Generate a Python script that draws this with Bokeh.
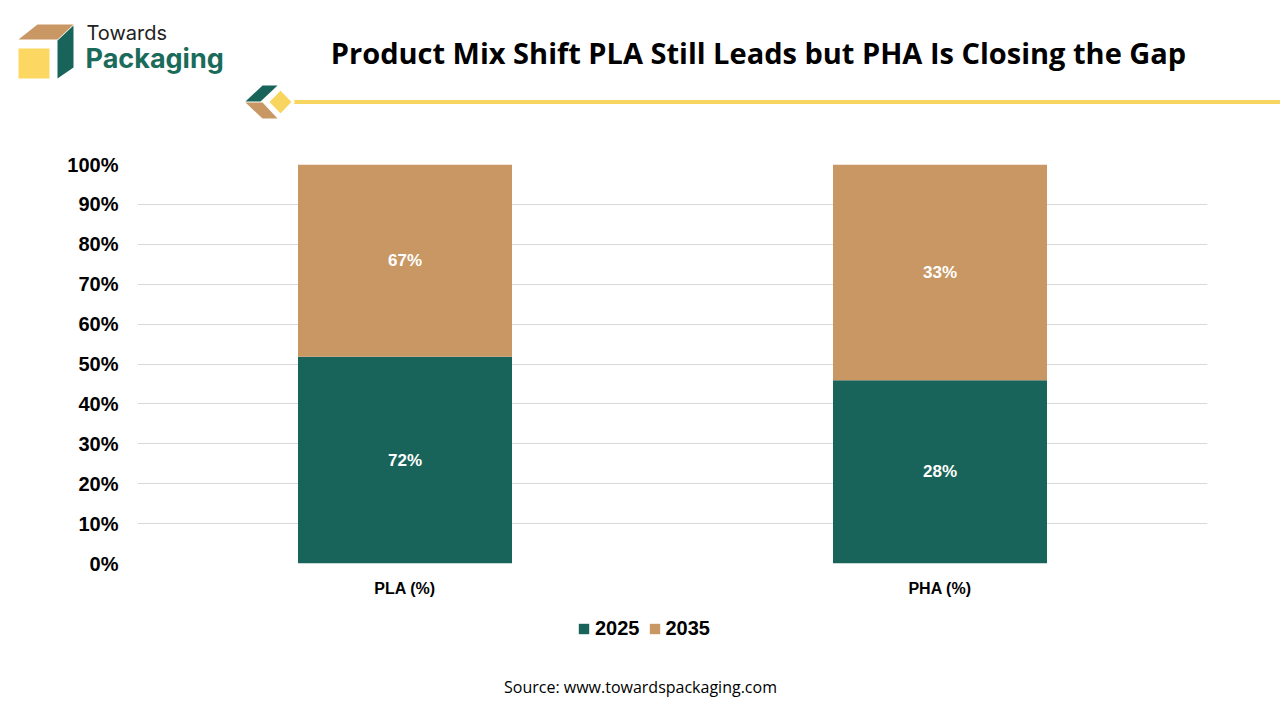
from bokeh.plotting import figure
from bokeh.models import (ColumnDataSource, FactorRange, Range1d, Legend, LegendItem,
                          FixedTicker, NumeralTickFormatter, LabelSet)
from bokeh.core.properties import value
from bokeh.embed import file_html
from bokeh.resources import INLINE

# data
categories = ["PLA (%)", "PHA (%)"]
years = ["2025", "2035"]
share_2025 = [72, 28]
share_2035 = [67, 33]

GREEN = "#19645A"
TAN = "#C99763"
YELLOW = "#F8D55E"
W = 1280


def blank(height, y0, y1):
    # plain drawing area where data units are page pixels (y downwards)
    f = figure(width=W, height=height, x_range=Range1d(0, W), y_range=Range1d(y1, y0),
               x_axis_type=None, y_axis_type=None, toolbar_location=None, tools="",
               output_backend="svg", min_border=0)
    f.min_border_left = f.min_border_right = f.min_border_top = f.min_border_bottom = 0
    f.outline_line_color = None
    f.xgrid.visible = False
    f.ygrid.visible = False
    return f


# ---------------- header: logo, title and the yellow rule
head = blank(140, 0, 140)
head.patch([18, 37, 73, 57], [39, 24, 24, 39], fill_color=TAN, line_color=None)
head.patch([57, 73, 73, 57], [40, 25, 67, 78], fill_color=GREEN, line_color=None)
head.patch([18, 49, 49, 18], [48, 48, 78, 78], fill_color="#FCD862", line_color=None)
head.text(x=[86], y=[32], text=["Towards"], text_font=value("Inter"),
          text_font_size="20px", text_color="#222222", text_baseline="middle")
head.text(x=[85], y=[58], text=["Packaging"], text_font=value("Inter"), text_font_style="bold",
          text_font_size="27px", text_color="#1B6B5A", text_baseline="middle")
head.text(x=[758], y=[52], text=["Product Mix Shift PLA Still Leads but PHA Is Closing the Gap"],
          text_font=value("Open Sans"), text_font_style="bold", text_font_size="29px",
          text_color="#000000", text_align="center", text_baseline="middle")
head.line([285, W], [101.5, 101.5], line_width=4, line_color=YELLOW)
head.patch([245, 262, 277, 260], [101, 85, 85, 101], fill_color=GREEN, line_color=None)
head.patch([245, 262, 277, 262], [102, 102, 118, 118], fill_color=TAN, line_color=None)
head.patch([280, 293, 280, 267], [88, 101.5, 115, 101.5], fill_color=YELLOW,
           line_color="white", line_width=3)

# ---------------- chart
totals = [a + b for a, b in zip(share_2025, share_2035)]
n2025 = [a / t for a, t in zip(share_2025, totals)]
n2035 = [b / t for b, t in zip(share_2035, totals)]
source = ColumnDataSource(data=dict(cat=categories, y2025=n2025, y2035=n2035))
labels = ColumnDataSource(data=dict(
    cat=categories + categories,
    y=[v / 2 for v in n2025] + [a + b / 2 for a, b in zip(n2025, n2035)],
    txt=["%d%%" % v for v in share_2025] + ["%d%%" % v for v in share_2035],
))

p = figure(frame_width=1070, frame_height=399, x_range=FactorRange(*categories),
           y_range=Range1d(0, 1), toolbar_location=None, tools="", output_backend="svg",
           min_border_left=137, min_border_right=73, min_border_top=24, min_border_bottom=37)
p.x_range.range_padding = 0
p.outline_line_color = None
rs = p.vbar_stack(["y2025", "y2035"], x="cat", width=0.4, source=source,
                  color=[GREEN, TAN], line_color=None)
p.add_layout(LabelSet(x="cat", y="y", text="txt", source=labels, text_color="white",
                      text_font=value("Liberation Sans"), text_font_style="bold",
                      text_font_size="17px", text_align="center", text_baseline="middle"))

p.xgrid.grid_line_color = None
p.ygrid.grid_line_color = "#D9D9D9"
p.yaxis.ticker = FixedTicker(ticks=[i / 10 for i in range(11)])
p.yaxis.formatter = NumeralTickFormatter(format="0%")
for ax in (p.xaxis[0], p.yaxis[0]):
    ax.axis_line_color = None
    ax.major_tick_line_color = None
    ax.minor_tick_line_color = None
    ax.major_tick_out = 0
    ax.major_tick_in = 0
    ax.minor_tick_out = 0
    ax.major_label_text_font = "Liberation Sans"
    ax.major_label_text_font_style = "bold"
    ax.major_label_text_color = "#000000"
p.yaxis.major_label_text_font_size = "20px"
p.yaxis.major_label_standoff = 19
p.xaxis.major_label_text_font_size = "16px"
p.xaxis.major_label_standoff = 16

# ---------------- footer: legend and source line
foot = blank(120, 600, 720)
# zero-area swatch glyphs that the legend draws its colour keys from
swatches = [foot.vbar(x=[0], bottom=[720], top=[720], width=0, fill_color=c, line_color=None)
            for c in (GREEN, TAN)]
legend = Legend(items=[LegendItem(label=years[i], renderers=[swatches[i]]) for i in range(2)],
                orientation="horizontal", location=(577, 80), margin=0, padding=0,
                spacing=8, label_standoff=5, glyph_width=13, glyph_height=13,
                border_line_color=None, background_fill_alpha=0,
                label_text_font="Liberation Sans", label_text_font_style="bold",
                label_text_font_size="20px", label_text_color="#000000")
foot.add_layout(legend, "center")
foot.text(x=[640], y=[686], text=["Source: www.towardspackaging.com"],
          text_font=value("Open Sans"), text_font_size="16px", text_color="#000000",
          text_align="center", text_baseline="middle")

open("out.html", "w").write(file_html([head, p, foot], INLINE))
